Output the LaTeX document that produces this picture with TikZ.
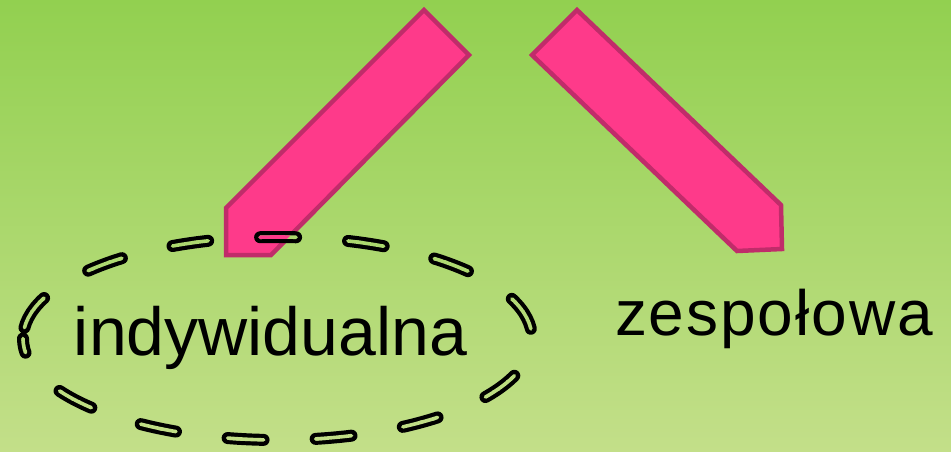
\documentclass[tikz,border=0pt]{standalone}
\usepackage{fontspec}
\setmainfont{Liberation Sans}
\newfontfamily\zfont[LetterSpace=3]{Liberation Sans}
\definecolor{bgtop}{HTML}{92D050}
\definecolor{bgbot}{HTML}{C3DF89}
\definecolor{pinkfill}{HTML}{FE3A8A}
\definecolor{pinkline}{HTML}{C02C6A}
\tikzset{
  arrowshape/.style={fill=pinkfill, draw=pinkline, line width=4.5pt, line join=miter},
  outerdash/.style={draw=black, line width=12pt, line cap=round, dash pattern=on 36pt off 52.1pt, dash phase=77.1pt},
  innerdash/.style={line width=3.6pt, line cap=round, dash pattern=on 36pt off 52.1pt, dash phase=77.1pt},
  label/.style={anchor=base, inner sep=0pt, text=black}
}
\begin{document}
\begin{tikzpicture}[x=1pt,y=-1pt]
\shade[top color=bgtop, bottom color=bgbot] (0,0) rectangle (951,451);
\useasboundingbox (0,0) rectangle (951,451);
% arrows
\draw[arrowshape] (424,10) -- (469,55) -- (271,255) -- (226,255) -- (226,208) -- cycle;
\draw[arrowshape] (577,10) -- (781,205) -- (782,249) -- (737,251) -- (532,55) -- cycle;
% dashed ellipse: black outer
\draw[outerdash] (23,338.5) arc[start angle=180, end angle=540, x radius=254.5, y radius=101.5];
% hollow inner, banded to follow the background gradient
\foreach \y in {220,230,...,450}{
  \pgfmathtruncatemacro\pc{(\y+5)/451*100}
  \begin{scope}
    \clip (0,\y) rectangle (951,\y+10.5);
    \draw[innerdash, draw=bgbot!\pc!bgtop] (23,338.5) arc[start angle=180, end angle=540, x radius=254.5, y radius=101.5];
  \end{scope}
}
\begin{scope}
  \clip (424,10) -- (469,55) -- (271,255) -- (226,255) -- (226,208) -- cycle;
  \draw[innerdash, draw=pinkfill] (23,338.5) arc[start angle=180, end angle=540, x radius=254.5, y radius=101.5];
\end{scope}
% labels
\node[label, font=\fontsize{68}{80}\selectfont] (ind) at (270.5,355) {indywidualna};
\node[label, font=\zfont\fontsize{64}{76}\selectfont] (zes) at (774,335) {zespołowa};
\end{tikzpicture}
\end{document}
